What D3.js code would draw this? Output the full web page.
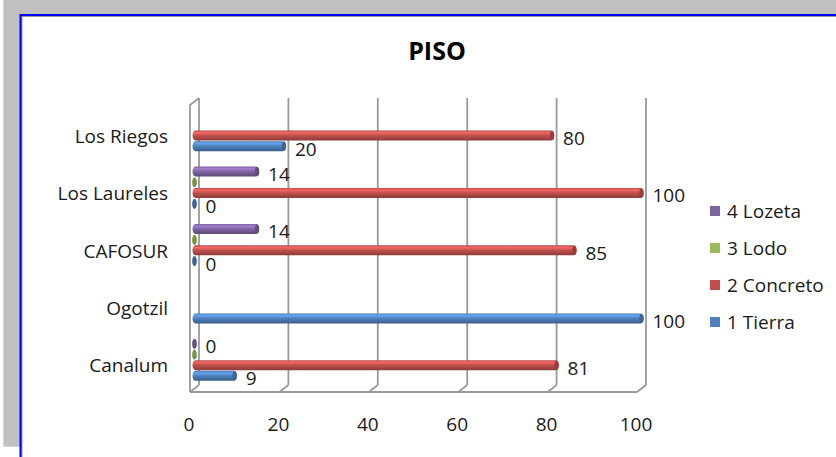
<!DOCTYPE html>
<html>
<head>
<meta charset="utf-8">
<script src="https://cdn.jsdelivr.net/npm/d3@7"></script>
<style>
  body { margin: 0; background: #fff; }
  svg { display: block; font-family: "Open Sans", sans-serif; }
</style>
</head>
<body>
<svg id="chart" width="836" height="457"></svg>
<script>
// data (null = no bar)
var categories = ['Los Riegos', 'Los Laureles', 'CAFOSUR', 'Ogotzil', 'Canalum'];
var series_names = ['4 Lozeta', '3 Lodo', '2 Concreto', '1 Tierra'];
var lozeta = [null, 14, 14, null, 0];
var lodo = [null, 0, 0, null, 0];
var concreto = [80, 100, 85, null, 81];
var tierra = [20, 0, 0, 100, 9];
var x_ticks = [0, 20, 40, 60, 80, 100];
var labelled = ['4 Lozeta', '2 Concreto', '1 Tierra'];

var series_values = [lozeta, lodo, concreto, tierra];
var colors = ['#8064A2', '#9BBB59', '#C0504D', '#4F81BD'];
var text_color = '#1a1a1a';

draw_chart();

function draw_chart(){
    var svg = d3.select('#chart');
    draw_frame(svg);

    var depth = {dx: 9, dy: -7};
    var x_scale = d3.scaleLinear().domain([0, 100]).range([190, 637]);
    var y_scale = d3.scaleBand().domain(categories).range([105, 392]);
    var sub_scale = d3.scaleBand().domain(series_names).range([-21.4, 21.4]);

    draw_walls(svg, x_scale, y_scale, depth);
    draw_axes(svg, x_scale, y_scale);
    draw_bars(svg, x_scale, y_scale, sub_scale, depth);
    draw_legend(svg);

    svg.append('text')
	.attr('x', 437).attr('y', 60)
	.attr('text-anchor', 'middle')
	.attr('font-size', 25).attr('font-weight', 'bold')
	.attr('fill', '#000')
	.text('PISO');
}

function draw_frame(svg){
    svg.append('rect').attr('x', 3).attr('y', 0).attr('width', 833).attr('height', 447)
	.attr('fill', '#d4d4d4');
    svg.append('rect').attr('x', 4).attr('y', 0).attr('width', 832).attr('height', 446)
	.attr('fill', '#c0c0c0');
    svg.append('rect').attr('x', 19.5).attr('y', 14).attr('width', 817).attr('height', 443)
	.attr('fill', '#0000ff');
    svg.append('rect').attr('x', 21.5).attr('y', 16).attr('width', 815).attr('height', 441)
	.attr('fill', '#9a9a9a');
    svg.append('rect').attr('x', 22.5).attr('y', 17).attr('width', 814).attr('height', 440)
	.attr('fill', '#ffffff');
}

function draw_walls(svg, x_scale, y_scale, depth){
    var g = svg.append('g').attr('stroke', '#999').attr('stroke-width', 1.8).attr('fill', 'none');
    var y0 = y_scale.range()[0], y1 = y_scale.range()[1];

    // back wall gridlines
    g.selectAll('.grid')
	.data(x_ticks)
	.enter()
	.append('line')
	.attr('x1', function(d){return x_scale(d) + depth.dx})
	.attr('x2', function(d){return x_scale(d) + depth.dx})
	.attr('y1', y0 + depth.dy)
	.attr('y2', y1 + depth.dy);

    // floor slants
    g.selectAll('.slant')
	.data(x_ticks)
	.enter()
	.append('line')
	.attr('x1', function(d){return x_scale(d) + depth.dx})
	.attr('x2', function(d){return x_scale(d)})
	.attr('y1', y1 + depth.dy)
	.attr('y2', y1);

    // floor front edge
    g.append('line')
	.attr('x1', x_scale(0)).attr('x2', x_scale(100))
	.attr('y1', y1).attr('y2', y1);

    // left side wall
    g.append('path')
	.attr('d', 'M' + x_scale(0) + ',' + y1 + 'V' + y0 + 'L' + (x_scale(0) + depth.dx) + ',' + (y0 + depth.dy));
}

function draw_axes(svg, x_scale, y_scale){
    svg.append('g').selectAll('text')
	.data(x_ticks)
	.enter()
	.append('text')
	.attr('x', function(d){return x_scale(d) - 1})
	.attr('y', 431)
	.attr('text-anchor', 'middle')
	.attr('font-size', 19)
	.attr('fill', text_color)
	.text(function(d){return d});

    svg.append('g').selectAll('text')
	.data(categories)
	.enter()
	.append('text')
	.attr('x', 168)
	.attr('y', function(d){return y_scale(d) + y_scale.bandwidth() / 2 + 9})
	.attr('text-anchor', 'end')
	.attr('font-size', 19)
	.attr('fill', text_color)
	.text(function(d){return d});
}

function draw_bars(svg, x_scale, y_scale, sub_scale, depth){
    var defs = svg.append('defs');
    colors.forEach(function(c, i){
	var grad = defs.append('linearGradient')
	    .attr('id', 'cyl' + i)
	    .attr('x1', 0).attr('y1', 0).attr('x2', 0).attr('y2', 1);
	grad.append('stop').attr('offset', '0%').attr('stop-color', d3.color(c).darker(0.2));
	grad.append('stop').attr('offset', '20%').attr('stop-color', d3.color(c).brighter(0.7));
	grad.append('stop').attr('offset', '50%').attr('stop-color', c);
	grad.append('stop').attr('offset', '100%').attr('stop-color', d3.color(c).darker(0.9));
    });

    var bar_h = 10;
    var items = [];
    series_values.forEach(function(vals, s){
	vals.forEach(function(v, c){
	    if(v === null) return;
	    items.push({series: series_names[s], si: s, category: categories[c], value: v});
	});
    });

    function cy(d){
	return y_scale(d.category) + y_scale.bandwidth() / 2 + depth.dy / 2
	    + sub_scale(d.series) + sub_scale.bandwidth() / 2;
    }
    function x_end(d){return x_scale(d.value) + depth.dx / 2}

    var g = svg.append('g');
    g.selectAll('.bar')
	.data(items)
	.enter()
	.append('rect')
	.attr('class', 'bar')
	.attr('x', x_scale(0) + depth.dx / 2 - 2)
	.attr('y', function(d){return cy(d) - bar_h / 2})
	.attr('width', function(d){return x_end(d) - x_scale(0) - depth.dx / 2 + 4})
	.attr('height', bar_h)
	.attr('rx', 3).attr('ry', bar_h / 2)
	.attr('fill', function(d){return 'url(#cyl' + d.si + ')'});

    g.selectAll('.cap')
	.data(items)
	.enter()
	.append('ellipse')
	.attr('cx', function(d){return x_end(d)})
	.attr('cy', cy)
	.attr('rx', 2.2).attr('ry', bar_h / 2 - 0.5)
	.attr('fill', function(d){return d3.color(colors[d.si]).darker(0.7)});

    g.selectAll('.value')
	.data(items.filter(function(d){return labelled.indexOf(d.series) >= 0}))
	.enter()
	.append('text')
	.attr('x', function(d){return x_end(d) + 11})
	.attr('y', function(d){return cy(d) + 9.5})
	.attr('font-size', 19)
	.attr('fill', text_color)
	.text(function(d){return d.value});
}

function draw_legend(svg){
    var legend = svg.append('g').selectAll('g')
	.data(series_names)
	.enter()
	.append('g')
	.attr('transform', function(d, i){return 'translate(710,' + (211 + i * 37) + ')'});
    legend.append('rect')
	.attr('x', 0).attr('y', -5).attr('width', 10).attr('height', 10)
	.attr('fill', function(d, i){return colors[i]});
    legend.append('text')
	.attr('x', 17).attr('y', 7)
	.attr('font-size', 19)
	.attr('fill', text_color)
	.text(function(d){return d});
}
</script>
</body>
</html>
